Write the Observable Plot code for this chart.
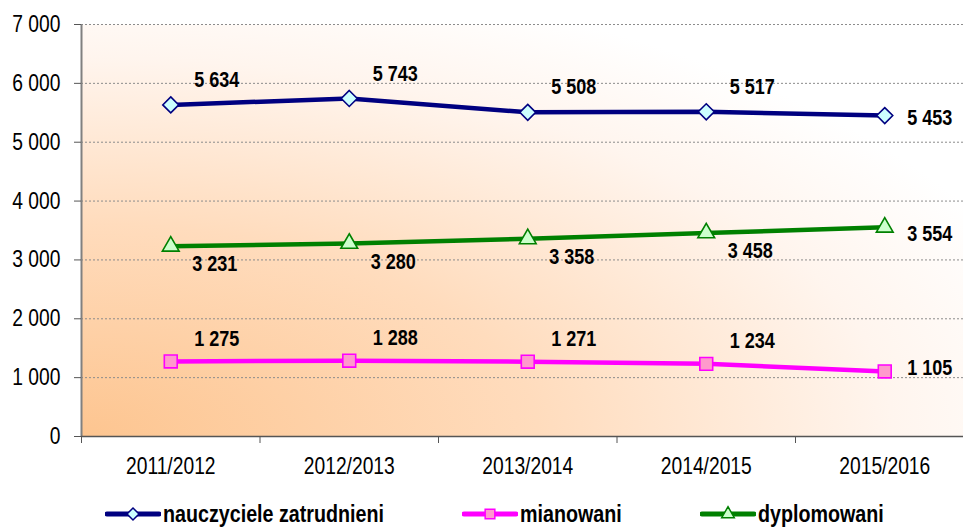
<!DOCTYPE html>
<html><head><meta charset="utf-8">
<script src="https://cdn.jsdelivr.net/npm/d3@7"></script>
<script src="https://cdn.jsdelivr.net/npm/@observablehq/plot@0.6"></script>
<style>
body{margin:0;background:#fff;font-family:"Liberation Sans",Arial,sans-serif;}
#legend{position:relative;width:963px;height:28px;}
.item{position:absolute;top:0;height:28px;display:flex;align-items:center;color:#000;white-space:nowrap;}
.item svg{margin-right:2px;flex:none;}
.item span{display:inline-block;font-weight:bold;font-size:24px;transform:scaleX(0.82);transform-origin:left center;}
</style></head><body>
<div id="chart"></div>
<div id="legend"></div>
<script>
// ---- data ----
const years = ["2011/2012","2012/2013","2013/2014","2014/2015","2015/2016"];
const nauczyciele = [5634,5743,5508,5517,5453];
const mianowani = [1275,1288,1271,1234,1105];
const dyplomowani = [3231,3280,3358,3458,3554];
const seriesNames = ["nauczyciele zatrudnieni","mianowani","dyplomowani"];
const yTicks = [0,1000,2000,3000,4000,5000,6000,7000];

// ---- styles ----
const FONT = '"Liberation Sans",Arial,sans-serif';
const NARROW = 0.82; // emulate Arial Narrow
const styles = {
  "nauczyciele zatrudnieni": {stroke:"#000080", fill:"#ccffff", symbol:"diamond2", r:7.2, upDy:-25, upDx:46, lastDy:2},
  "mianowani": {stroke:"#ff00ff", fill:"#ff99cc", symbol:"square2", r:8.2, upDy:-23, upDx:46, lastDy:-4},
  "dyplomowani": {stroke:"#008000", fill:"#ccffcc", symbol:"triangle2", r:8, upDy:18, upDx:44, lastDy:7}
};
const fmt = d => d3.format(",")(d).replace(/,/g, " ");

const seriesValues = [nauczyciele, mianowani, dyplomowani];
const xDomain = [-0.5, years.length - 0.5];

const marks = [
  Plot.frame({fill:"url(#bgGrad)", stroke:"none"}),
  Plot.gridY({ticks: yTicks.filter(d => d > 0), stroke:"#8c8c8c", strokeOpacity:1, strokeDasharray:"2,2", strokeWidth:1}),
  Plot.ruleX([xDomain[0]], {stroke:"#808080", strokeWidth:2}),
  Plot.ruleY([0], {stroke:"#555", strokeWidth:1.5}),
  Plot.axisY({ticks: yTicks, tickSize:7, tickFormat: () => "", stroke:"#555", label:null}),
  Plot.axisY({ticks: yTicks, tickSize:0, tickPadding:21, tickFormat: fmt, fontSize:23.5, fill:"#000", label:null}),
  Plot.axisX({ticks: d3.range(xDomain[0], xDomain[1] + 0.01, 1), tickSize:7, tickFormat: () => "", stroke:"#555", label:null}),
  Plot.axisX({ticks: d3.range(years.length), tickSize:0, tickPadding:21, tickFormat: i => years[i], fontSize:23.5, fill:"#000", label:null})
];

seriesNames.forEach((name, si) => {
  const s = styles[name];
  const rows = seriesValues[si].map((v, i) => ({i, value: v}));
  const last = rows.length - 1;
  marks.push(
    Plot.line(rows, {x:"i", y:"value", stroke:s.stroke, strokeWidth:4.5}),
    Plot.dot(rows, {x:"i", y:"value", symbol:s.symbol, r:s.r, fill:s.fill, stroke:s.stroke, strokeWidth:1.6}),
    Plot.text(rows.filter(d => d.i < last), {x:"i", y:"value", text: d => fmt(d.value), dx:s.upDx, dy:s.upDy, fontSize:22, fontWeight:"bold", fill:"#000"}),
    Plot.text(rows.filter(d => d.i === last), {x:"i", y:"value", text: d => fmt(d.value), dx:45, dy:s.lastDy, fontSize:22, fontWeight:"bold", fill:"#000"})
  );
});

const chart = Plot.plot({
  width: 963,
  height: 500,
  marginLeft: 81,
  marginRight: 0,
  marginTop: 24,
  marginBottom: 64,
  style: {fontFamily: FONT, fontSize:"22px", background:"transparent", color:"#000", overflow:"visible"},
  x: {type:"linear", domain: xDomain, range:[81, 973.5], axis:null, label:null},
  y: {domain:[0, 7000], range:[436, 24], axis:null, label:null},
  marks
});

// condense text horizontally (narrow face emulation), about each text's anchor
d3.select(chart).selectAll("text").each(function() {
  const t = this.getAttribute("transform");
  if (t) this.setAttribute("transform", t + ` scale(${NARROW},1)`);
  else {
    const x = +this.getAttribute("x") || 0, y = +this.getAttribute("y") || 0;
    this.removeAttribute("x"); this.removeAttribute("y");
    this.setAttribute("transform", `translate(${x},${y}) scale(${NARROW},1)`);
  }
});

// gradient background (corner gradient from bottom-left)
const svg = d3.select(chart);
const defs = svg.insert("defs", ":first-child");
const g = defs.append("radialGradient").attr("id","bgGrad")
  .attr("cx",0).attr("cy",1).attr("r",1.15).attr("fx",0).attr("fy",1);
g.append("stop").attr("offset","0%").attr("stop-color","#fdc590");
g.append("stop").attr("offset","45%").attr("stop-color","#ffdcbd");
g.append("stop").attr("offset","80%").attr("stop-color","#fff5ee");
g.append("stop").attr("offset","100%").attr("stop-color","#ffffff");

document.getElementById("chart").appendChild(chart);

// legend
const legend = d3.select("#legend");
const legendLeft = [105, 462, 700];
seriesNames.forEach((name, si) => {
  const s = styles[name];
  const item = legend.append("div").attr("class","item").style("left", legendLeft[si] + "px");
  const sv = item.append("svg").attr("width",56).attr("height",24);
  sv.append("line").attr("x1",2).attr("x2",54).attr("y1",12).attr("y2",12)
    .attr("stroke", s.stroke).attr("stroke-width",5).attr("stroke-linecap","round");
  const sym = {diamond2:d3.symbolDiamond2, square2:d3.symbolSquare2, triangle2:d3.symbolTriangle2}[s.symbol];
  sv.append("path").attr("transform","translate(28,12)")
    .attr("d", d3.symbol(sym, Math.PI * (s.r*0.75) * (s.r*0.75))())
    .attr("fill", s.fill).attr("stroke", s.stroke).attr("stroke-width",1.5);
  item.append("span").text(name);
});
</script>
</body></html>
